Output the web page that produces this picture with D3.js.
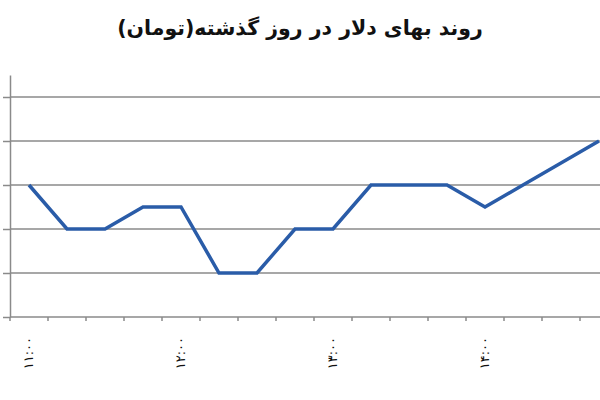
<!DOCTYPE html>
<meta charset="UTF-8">
<style>
body { margin: 0; background: #fff; }
.grid line { stroke: #8a8a8a; stroke-width: 1.5px; }
.axis path, .axis line { stroke: #8a8a8a; stroke-width: 1.5px; }
.price { fill: none; stroke: #2a5ca8; stroke-width: 3.5px; stroke-linejoin: miter; }
</style>
<body>
<div class="chart"></div>
<script src="https://d3js.org/d3.v7.min.js"></script>
<script>
// 15-minute readings, 11:00 .. 14:45
var times = ["11:00","11:15","11:30","11:45","12:00","12:15","12:30","12:45",
             "13:00","13:15","13:30","13:45","14:00","14:15","14:30","14:45"];
var prices = [3550, 3500, 3500, 3525, 3525, 3450, 3450, 3500,
              3500, 3550, 3550, 3550, 3525, 3550, 3575, 3600];
var yTicks = [3400, 3450, 3500, 3550, 3600, 3650];
var hourLabels = {"11:00": "۱۱:۰۰", "12:00": "۱۲:۰۰", "13:00": "۱۳:۰۰", "14:00": "۱۴:۰۰"};
var title = "روند بهای دلار در روز گذشته(تومان)";

var width = 600, height = 400;
var svg = d3.select(".chart").append("svg")
    .attr("width", width)
    .attr("height", height);

var x = d3.scaleBand().domain(times).range([10, 10 + 38 * times.length]);
var y = d3.scaleLinear().domain([3400, 3675]).range([317, 75]);

// horizontal grid
svg.append("g").attr("class", "grid")
  .selectAll("line").data(yTicks.slice(1)).enter().append("line")
    .attr("x1", 10).attr("x2", width)
    .attr("y1", function (d) { return y(d); })
    .attr("y2", function (d) { return y(d); });

// y axis (labels cropped out in the original)
svg.append("g").attr("class", "axis")
    .attr("transform", "translate(10,0)")
    .call(d3.axisLeft(y).tickValues(yTicks).tickSize(7).tickSizeOuter(0).tickFormat(""));

// x axis with ticks between categories
var xAxis = svg.append("g").attr("class", "axis")
    .attr("transform", "translate(0," + y(3400) + ")");
xAxis.append("line").attr("x1", 10).attr("x2", width);
xAxis.selectAll(".tk").data(times).enter().append("line")
    .attr("class", "tk")
    .attr("x1", function (d) { return x(d); })
    .attr("x2", function (d) { return x(d); })
    .attr("y1", 0).attr("y2", 4);

xAxis.selectAll("text").data(times.filter(function (t) { return hourLabels[t]; }))
  .enter().append("text")
    .attr("transform", function (d) {
      return "translate(" + (x(d) + x.bandwidth() / 2 + 4) + ",20) rotate(-90)";
    })
    .attr("text-anchor", "end")
    .attr("font-family", "DejaVu Sans, sans-serif")
    .attr("font-size", 13)
    .attr("fill", "#111")
    .text(function (d) { return hourLabels[d]; });

// price line
var line = d3.line()
    .x(function (d, i) { return x(times[i]) + x.bandwidth() / 2; })
    .y(function (d) { return y(d); });
svg.append("path").datum(prices).attr("class", "price").attr("d", line);

// title
svg.append("text")
    .attr("x", 300).attr("y", 35)
    .attr("text-anchor", "middle")
    .attr("direction", "rtl")
    .attr("font-family", "DejaVu Sans, sans-serif")
    .attr("font-size", 20.5)
    .attr("font-weight", "bold")
    .attr("fill", "#111")
    .text(title);
</script>
</body>
